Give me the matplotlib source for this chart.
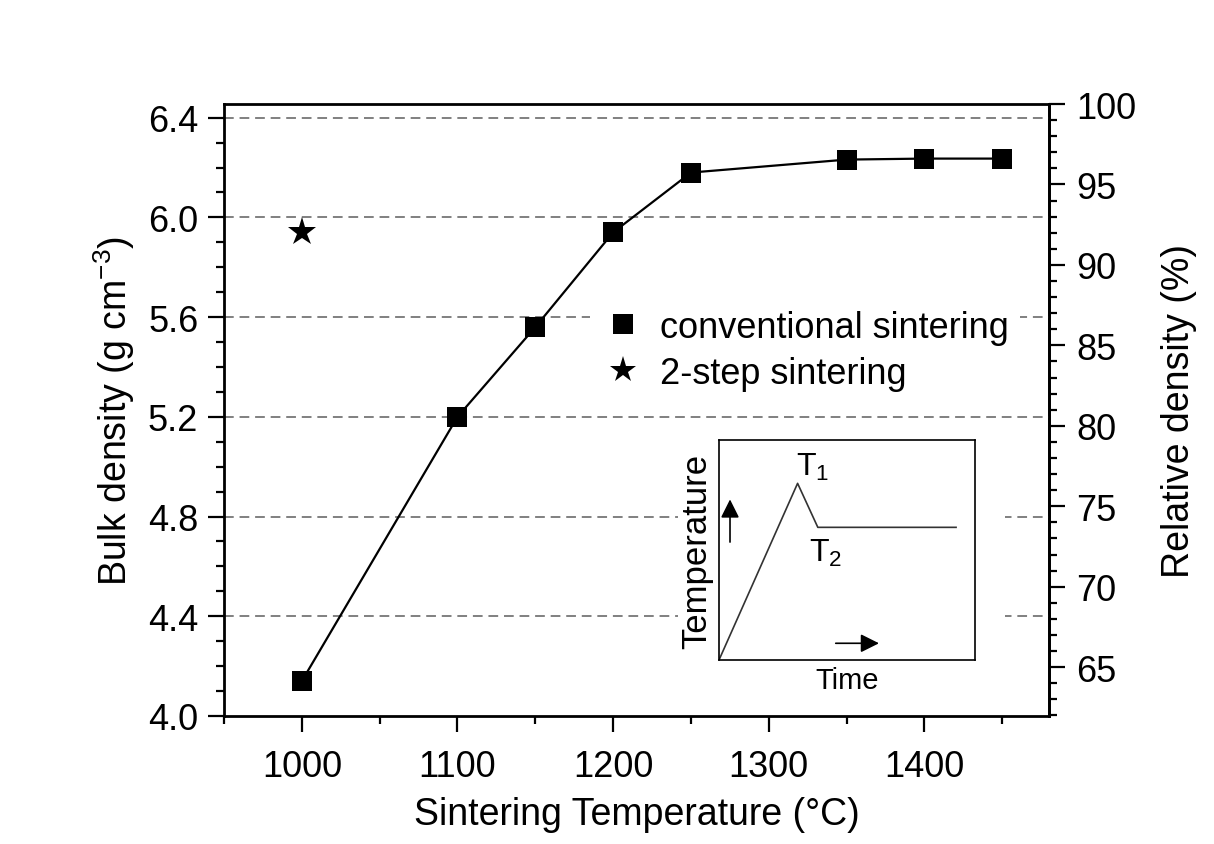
import matplotlib
matplotlib.use("Agg")
import matplotlib.pyplot as plt
from matplotlib.lines import Line2D
from matplotlib.patches import Rectangle
from matplotlib.ticker import MultipleLocator

plt.rcParams['font.family'] = ['Liberation Sans', 'DejaVu Sans']
plt.rcParams['mathtext.default'] = 'regular'

# conventional sintering
temp_conv = [1000, 1100, 1150, 1200, 1250, 1350, 1400, 1450]
dens_conv = [4.14, 5.20, 5.56, 5.94, 6.18, 6.232, 6.236, 6.236]
# 2-step sintering
temp_2step = [1000]
dens_2step = [5.94]
theo_density = 6.455  # g/cm3 -> 100 %

# inset: schematic temperature profile
inset_time = [0.0, 0.307, 0.386, 0.926]
inset_temp = [0.0, 0.803, 0.603, 0.603]

W, H = 1214, 845
fig = plt.figure(figsize=(W / 100, H / 100), dpi=100)
ax = fig.add_axes([224 / W, 1 - 717 / H, 825 / W, 612 / H])

ax.plot(temp_conv, dens_conv, color='black', lw=1.6, marker='s', ms=13.7,
        mew=0, mfc='black', zorder=3)
ax.plot(temp_2step, dens_2step, ls='none', marker='*', ms=21, mew=0,
        color='black', zorder=3)

ax.set_xlim(950, 1480)
ax.set_ylim(4.0, theo_density)
ax.xaxis.set_major_locator(MultipleLocator(100))
ax.xaxis.set_minor_locator(MultipleLocator(50))
ax.yaxis.set_major_locator(MultipleLocator(0.4))
ax.yaxis.set_minor_locator(MultipleLocator(0.1))
ax.yaxis.set_major_formatter(matplotlib.ticker.FormatStrFormatter('%.1f'))

# dashed grid at the major left ticks
ax.set_axisbelow(True)
for v in [4.4, 4.8, 5.2, 5.6, 6.0, 6.4]:
    ax.axhline(v, color='#808080', lw=1.4, ls=(0, (5, 3)), zorder=0.5)

for s in ax.spines.values():
    s.set_linewidth(2)
ax.tick_params(which='major', direction='out', length=11.5, width=1.6,
               labelsize=26, pad=7)
ax.tick_params(which='minor', direction='out', length=6, width=1.6)
ax.tick_params(axis='x', which='major', pad=12)

ax.set_xlabel('Sintering Temperature (°C)', fontsize=27, labelpad=9)
ax.set_ylabel('Bulk density (g cm$^{-3}$)', fontsize=27, labelpad=8)

sec = ax.secondary_yaxis('right', functions=(lambda d: d / theo_density * 100,
                                             lambda p: p * theo_density / 100))
sec.yaxis.set_major_locator(MultipleLocator(5))
sec.yaxis.set_minor_locator(MultipleLocator(1))
sec.spines['right'].set_linewidth(2)
sec.tick_params(which='major', direction='out', length=11.5, width=1.6,
                labelsize=26, pad=8)
sec.tick_params(which='minor', direction='out', length=6, width=1.6)
sec.set_ylabel('Relative density (%)', fontsize=27, labelpad=18)

# legend
handles = [Line2D([], [], ls='none', marker='s', ms=15, mew=0, color='black'),
           Line2D([], [], ls='none', marker='*', ms=20, mew=0, color='black')]
leg = ax.legend(handles, ['conventional sintering', '2-step sintering'],
                loc='upper left', bbox_to_anchor=(590 / W, 1 - 300 / H),
                bbox_transform=fig.transFigure, fontsize=26, frameon=True,
                facecolor='white', edgecolor='none', framealpha=1,
                handlelength=1.2, handletextpad=0.45, labelspacing=0.3,
                borderpad=0.3, borderaxespad=0)

# white area behind inset so the grid stops there
ax.add_patch(Rectangle((678 / W, 1 - 700 / H), (1005 - 678) / W, 270 / H,
                       transform=fig.transFigure, facecolor='white',
                       edgecolor='none', zorder=1))

ins = fig.add_axes([719 / W, 1 - 661 / H, 256 / W, 220 / H])
ins.plot(inset_time, inset_temp, color='#333333', lw=1.2)
ins.set_xlim(0, 1)
ins.set_ylim(0, 1)
ins.set_xticks([])
ins.set_yticks([])
for s in ins.spines.values():
    s.set_linewidth(1.2)
ins.set_xlabel('Time', fontsize=21, labelpad=4)
ins.set_ylabel('Temperature', fontsize=25, labelpad=4)
ins.text(0.3, 0.88, 'T$_1$', fontsize=23, va='center', ha='left')
ins.text(0.35, 0.49, 'T$_2$', fontsize=23, va='center', ha='left')
ins.annotate('', xy=(0.043, 0.73), xytext=(0.043, 0.536),
             arrowprops=dict(arrowstyle='-|>', color='black', lw=1.2,
                             mutation_scale=28, shrinkA=0, shrinkB=0))
ins.annotate('', xy=(0.625, 0.076), xytext=(0.456, 0.076),
             arrowprops=dict(arrowstyle='-|>', color='black', lw=1.2,
                             mutation_scale=28, shrinkA=0, shrinkB=0))

fig.savefig('out.png', dpi=100)
